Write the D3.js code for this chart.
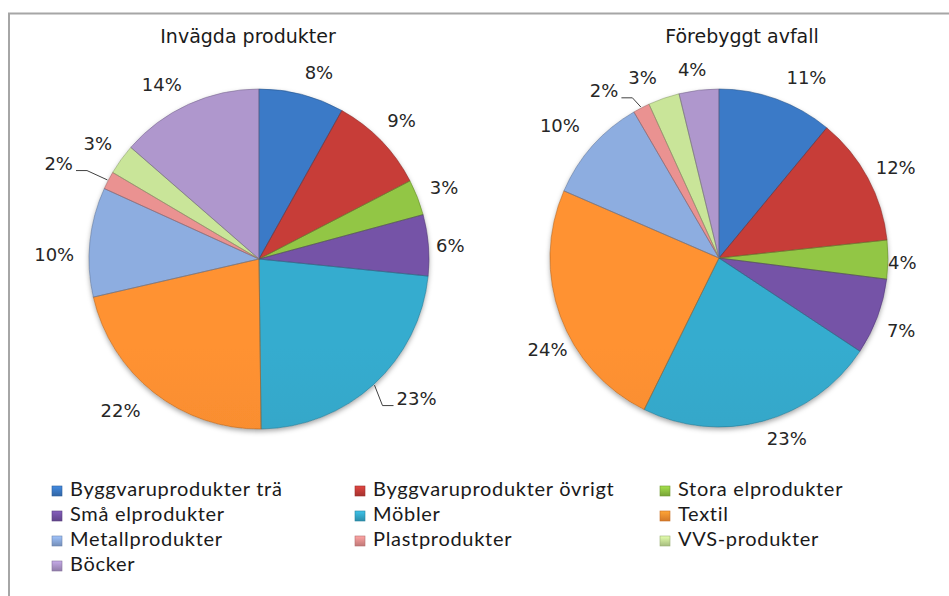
<!DOCTYPE html>
<html>
<head>
<meta charset="utf-8">
<script src="https://cdn.jsdelivr.net/npm/d3@7"></script>
<style>
  html, body { margin: 0; padding: 0; background: #fff; }
  svg { display: block; }
  .title { font-family: 'DejaVu Sans', Verdana, sans-serif; font-size: 19px; fill: #1a1a1a; }
  .pct { font-family: 'DejaVu Sans', Verdana, sans-serif; font-size: 18px; fill: #262626; }
  .legend text { font-family: Lato, Calibri, sans-serif; font-size: 20px; letter-spacing: 0.7px; fill: #1a1a1a; }
</style>
</head>
<body>
<svg id="chart" width="949" height="596"></svg>
<script>
// categories (legend order = slice order, clockwise from 12 o'clock)
const categories = [
  'Byggvaruprodukter trä', 'Byggvaruprodukter övrigt', 'Stora elprodukter',
  'Små elprodukter', 'Möbler', 'Textil',
  'Metallprodukter', 'Plastprodukter', 'VVS-produkter', 'Böcker'
];
// shares in percent
const invagda = [8.1, 9.3, 3.4, 5.8, 23.2, 21.6, 10.4, 1.7, 2.9, 13.6];
const forebyggt = [11.0, 12.3, 3.7, 7.3, 23.0, 24.2, 10.1, 1.6, 3.0, 3.8];
const titles = ['Invägda produkter', 'Förebyggt avfall'];

const colors = ['#3874bd', '#bd3a36', '#8abc40', '#6f4f9e', '#33a3c4',
                '#f48a2e', '#86a4d4', '#de8a89', '#bfd991', '#a68fc2'];

const width = 949, height = 596;
const svg = d3.select('#chart');
const defs = svg.append('defs');

// soft shadow under the pies
const shadow = defs.append('filter').attr('id', 'shadow')
  .attr('x', '-10%').attr('y', '-10%').attr('width', '120%').attr('height', '125%');
shadow.append('feDropShadow').attr('dx', 0).attr('dy', 2.5)
  .attr('stdDeviation', 2.5).attr('flood-color', '#000').attr('flood-opacity', 0.35);

// frame (clipped at right/bottom like the source screenshot)
svg.append('path')
  .attr('d', `M9,${height} V13.5 H${width}`)
  .attr('fill', 'none').attr('stroke', '#a6a6a6').attr('stroke-width', 2);

// per-label tweaks to mimic the spreadsheet's "best fit" placement
const charts = [
  { title: titles[0], values: invagda, cx: 259, cy: 259, r: 170, titleX: 248,
    leaders: [4, 7],
    nudge: [[11, 2], [0, 0], [0, 0], [-5, 3], [21, -10], [-14, -7], [-3, 16], [-24, -4], [0, 1], [-15, 6]] },
  { title: titles[1], values: forebyggt, cx: 719, cy: 258, r: 169, titleX: 742,
    leaders: [7],
    nudge: [[21, 4], [-2, 6], [-12, 3], [-3, 4], [17, -8], [19, 22], [-8, 2], [-25, 6], [-13, 3], [-4, 2]] }
];

const pie = d3.pie().sort(null).value(d => d);
const fmt = d3.format('.0%');

charts.forEach((c, ci) => {
  const g = svg.append('g');

  g.append('text').attr('class', 'title')
    .attr('x', c.titleX).attr('y', 43)
    .attr('text-anchor', 'middle')
    .text(c.title);

  // vertical gradients in pie space
  colors.forEach((col, i) => {
    const lg = defs.append('linearGradient')
      .attr('id', `grad-${ci}-${i}`)
      .attr('gradientUnits', 'userSpaceOnUse')
      .attr('x1', c.cx).attr('x2', c.cx)
      .attr('y1', c.cy - c.r).attr('y2', c.cy + c.r);
    lg.append('stop').attr('offset', '0%').attr('stop-color', d3.color(col).brighter(0.15));
    lg.append('stop').attr('offset', '45%').attr('stop-color', col);
    lg.append('stop').attr('offset', '100%').attr('stop-color', d3.color(col).darker(0.65));
  });

  const arcs = pie(c.values);
  const arc = d3.arc().innerRadius(0).outerRadius(c.r);
  const total = d3.sum(c.values);

  const pieG = g.append('g')
    .attr('transform', `translate(${c.cx},${c.cy})`)
    .attr('filter', 'url(#shadow)');

  // clip paths for inner bevel highlight
  arcs.forEach((a, i) => {
    defs.append('clipPath').attr('id', `clip-${ci}-${i}`)
      .append('path').attr('d', arc(a))
      .attr('transform', `translate(${c.cx},${c.cy})`);
  });

  pieG.selectAll('path.slice')
    .data(arcs)
    .join('path')
    .attr('class', 'slice')
    .attr('d', arc)
    .attr('fill', (d, i) => `url(#grad-${ci}-${i})`);

  // bevel: light inner rim + dark outline
  const bevel = g.append('g');
  bevel.selectAll('path')
    .data(arcs)
    .join('path')
    .attr('d', arc)
    .attr('transform', `translate(${c.cx},${c.cy})`)
    .attr('clip-path', (d, i) => `url(#clip-${ci}-${i})`)
    .attr('fill', 'none')
    .attr('stroke', '#fff')
    .attr('stroke-opacity', 0.28)
    .attr('stroke-width', 6)
    .attr('stroke-linejoin', 'round');
  bevel.selectAll('path.edge')
    .data(arcs)
    .join('path')
    .attr('class', 'edge')
    .attr('d', arc)
    .attr('transform', `translate(${c.cx},${c.cy})`)
    .attr('fill', 'none')
    .attr('stroke', (d, i) => d3.color(colors[i]).darker(1))
    .attr('stroke-opacity', 0.6)
    .attr('stroke-width', 0.9);

  // percentage labels, placed just outside the rim
  const labels = g.append('g');
  arcs.forEach((a, i) => {
    const mid = (a.startAngle + a.endAngle) / 2;
    const s = Math.sin(mid), co = Math.cos(mid);
    const t = labels.append('text').attr('class', 'pct')
      .attr('text-anchor', 'middle')
      .text(fmt(a.value / total));
    const bb = t.node().getBBox();
    const hw = bb.width / 2, hh = 9;
    const R = c.r + 12 + hw * Math.abs(s) + hh * Math.abs(co);
    const lx = c.cx + R * s + c.nudge[i][0];
    const ly = c.cy - R * co + c.nudge[i][1];
    t.attr('x', lx).attr('y', ly).attr('dy', '0.36em');

    if (c.leaders.includes(i)) {
      const ex = c.cx + (c.r + 1) * s, ey = c.cy - (c.r + 1) * co;
      const side = lx < ex ? 1 : -1; // label left of edge -> line leaves from its right side
      const ax = lx + side * (hw + 3);
      const by = ly + 7.5;
      labels.append('path')
        .attr('d', `M${ex},${ey} L${ax + side * 11},${by} L${ax},${by}`)
        .attr('fill', 'none').attr('stroke', '#404040').attr('stroke-width', 1);
    }
  });
});

// legend
const legendCols = [52, 355, 660];
const legendTop = 496, legendStep = 25;
const legend = svg.append('g').attr('class', 'legend');
categories.forEach((name, i) => {
  const x = legendCols[i % 3];
  const y = legendTop + Math.floor(i / 3) * legendStep;
  const col = colors[i];
  const lg = defs.append('linearGradient').attr('id', `lgrad-${i}`)
    .attr('x1', 0).attr('x2', 0).attr('y1', 0).attr('y2', 1);
  lg.append('stop').attr('offset', '0%').attr('stop-color', d3.color(col).brighter(0.5));
  lg.append('stop').attr('offset', '100%').attr('stop-color', d3.color(col).darker(0.4));
  legend.append('rect')
    .attr('x', x).attr('y', y - 10).attr('width', 10).attr('height', 10)
    .attr('fill', `url(#lgrad-${i})`)
    .attr('stroke', d3.color(col).darker(0.6)).attr('stroke-width', 0.6);
  legend.append('text').attr('x', x + 18).attr('y', y).text(name);
});
</script>
</body>
</html>
